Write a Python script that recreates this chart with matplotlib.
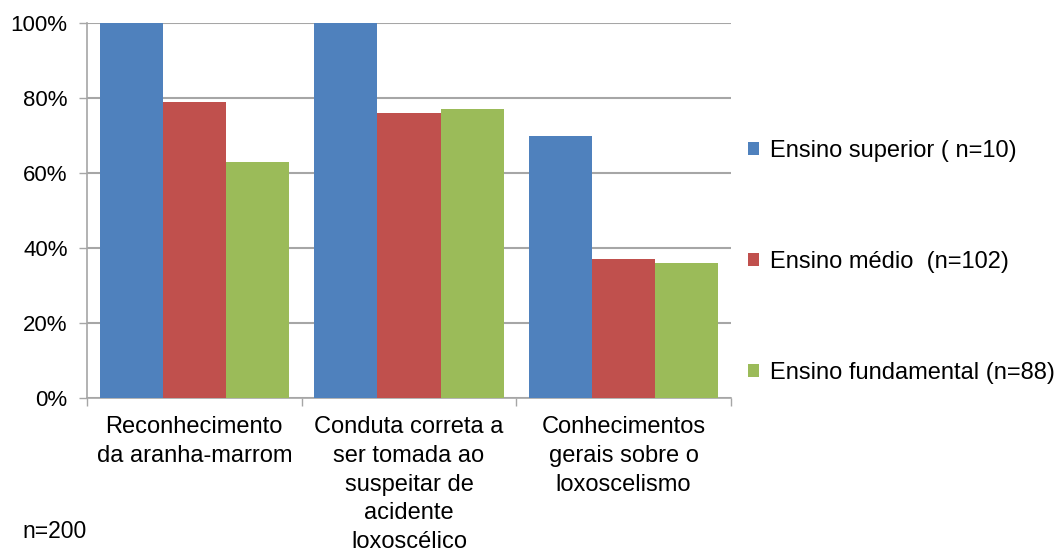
import matplotlib
matplotlib.use("Agg")
import matplotlib.pyplot as plt
import numpy as np

plt.rcParams['font.family'] = ['Liberation Sans', 'DejaVu Sans']

categories = ['Reconhecimento\nda aranha-marrom',
              'Conduta correta a\nser tomada ao\nsuspeitar de\nacidente\nloxoscélico',
              'Conhecimentos\ngerais sobre o\nloxoscelismo']
series_names = ['Ensino superior ( n=10)', 'Ensino médio  (n=102)', 'Ensino fundamental (n=88)']
superior = [100, 100, 70]
medio = [79, 76, 37]
fundamental = [63, 77, 36]
yticks = [0, 20, 40, 60, 80, 100]

colors = ['#4F81BD', '#C0504D', '#9BBB59']
grid_c = '#A6A6A6'

fig = plt.figure(figsize=(10.54, 5.53), dpi=100)
ax = fig.add_axes([0.0825, 0.2803, 0.611, 0.678])

x = np.arange(len(categories))
w = 1 / 3.4
handles = []
for i, (vals, c, name) in enumerate(zip([superior, medio, fundamental], colors, series_names)):
    b = ax.bar(x + (i - 1) * w, vals, width=w, color=c, label=name, zorder=3)
    handles.append(b)

ax.set_xlim(-0.5, 2.5)
ax.set_ylim(0, 100)
ax.set_yticks(yticks)
ax.set_yticklabels([f'{v}%' for v in yticks], fontsize=16)
ax.yaxis.grid(True, color=grid_c, linewidth=1.5, zorder=0)
ax.tick_params(axis='y', length=6, width=1, color=grid_c, pad=8)

# category labels at centres, boundary tick marks between them
ax.set_xticks(x)
ax.set_xticklabels(categories, fontsize=17, linespacing=1.4, va='top')
ax.set_xticks(np.arange(-0.5, 3, 1), minor=True)
ax.tick_params(axis='x', which='major', length=0, pad=13)
ax.tick_params(axis='x', which='minor', length=6, width=1, color=grid_c)

for s in ['top', 'right']:
    ax.spines[s].set_visible(False)
for s in ['left', 'bottom']:
    ax.spines[s].set_color(grid_c)
    ax.spines[s].set_linewidth(1.2)

fig.legend(handles=handles, loc='center left', bbox_to_anchor=(0.7095, 0.527),
           frameon=False, fontsize=17, labelspacing=3.77,
           handlelength=0.47, handleheight=0.47, handletextpad=0.45,
           borderpad=0, borderaxespad=0)

fig.text(0.021, 0.039, 'n=200', fontsize=16.5, va='center')

fig.savefig('out.png', dpi=100)
